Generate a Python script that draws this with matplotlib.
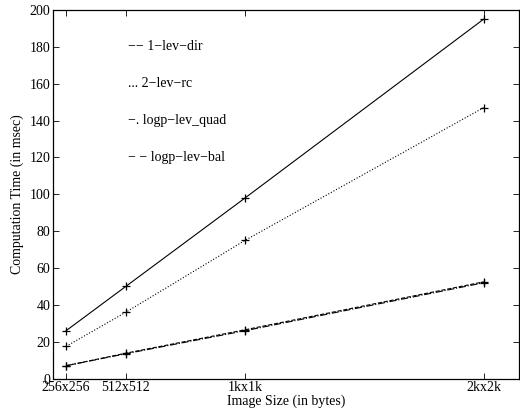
import matplotlib.pyplot as plt

plt.rcParams['font.family'] = ['Liberation Serif', 'DejaVu Serif']

# image side length (pixels) and tick labels
sizes = [256, 512, 1024, 2048]
size_labels = ['256x256', '512x512', '1kx1k', '2kx2k']

# computation time in msec
lev1_dir = [26, 50, 98, 195]
lev2_rc = [17.5, 36, 75, 147]
logp_quad = [7, 13.5, 26, 52]
logp_bal = [7, 13.8, 26.5, 52.5]

fig = plt.figure(figsize=(5.2, 4.17), dpi=100)
ax = fig.add_axes([0.102, 0.092, 0.896, 0.884])

ax.plot(sizes, lev1_dir, '-', color='black', lw=0.8, marker='+', ms=6, mew=0.9)
ax.plot(sizes, lev2_rc, ':', color='black', lw=0.8, marker='+', ms=6, mew=0.9)
ax.plot(sizes, logp_quad, '-.', color='black', lw=0.8, marker='+', ms=6, mew=0.9)
ax.plot(sizes, logp_bal, '--', color='black', lw=0.8, marker='+', ms=6, mew=0.9)

ax.set_xlim(200, 2200)
ax.set_ylim(0, 200)
ax.set_xticks(sizes)
ax.set_xticklabels(size_labels)
ax.set_yticks(range(0, 201, 20))
ax.tick_params(direction='in', top=True, right=True, labelsize=10, length=4, width=0.6, pad=2)
for s in ax.spines.values():
    s.set_linewidth(0.9)

ax.set_xlabel('Image Size (in bytes)', fontsize=10, labelpad=0)
ax.set_ylabel('Computation Time (in msec)', fontsize=10, labelpad=4)

# hand-placed legend text, MATLAB style
legend_items = ['−− 1−lev−dir', '... 2−lev−rc', '−. logp−lev_quad', '− − logp−lev−bal']
legend_y = [180, 160, 140, 120]
for txt, y in zip(legend_items, legend_y):
    ax.text(520, y, txt, fontsize=10, va='center', ha='left')

fig.savefig('out.png', dpi=100)
